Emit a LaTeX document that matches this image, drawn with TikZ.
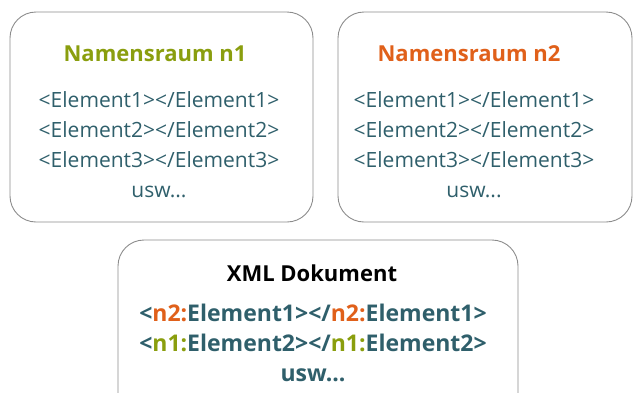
\documentclass[tikz,border=0pt]{standalone}
\usepackage{fontspec}
\setmainfont{Open Sans}
\definecolor{nsgreen}{HTML}{8A9E0E}
\definecolor{nsorange}{HTML}{E0601A}
\definecolor{teal}{HTML}{2F5F6B}
\definecolor{frame}{HTML}{8C8C8C}
\begin{document}
\begin{tikzpicture}[x=1pt,y=-1pt,
  nsbox/.style={draw=frame,line width=0.9pt,rounded corners=26pt},
  head/.style={font=\fontsize{22}{24}\selectfont\bfseries},
  elem/.style={font=\fontsize{21}{30}\selectfont,text=teal,align=center},
  docl/.style={font=\fontsize{23}{30}\selectfont\bfseries,text=teal,align=center}]
\useasboundingbox (0,0) rectangle (635,392);
\clip (0,0) rectangle (635,392);
\draw[nsbox] (10,12) rectangle (313,222);
\draw[nsbox] (338,12) rectangle (632,222);
\draw[nsbox] (118,240) rectangle (518,420);
\node[head,text=nsgreen] (h1) at (155,54) {Namensraum n1};
\node[head,text=nsorange] (h2) at (469,54) {Namensraum n2};
\node[head,text=black] (h3) at (312,273) {XML Dokument};
\node[elem,anchor=north] (e1) at (159,88) {<Element1></Element1>\\<Element2></Element2>\\<Element3></Element3>\\usw...};
\node[elem,anchor=north] (e2) at (474,88) {<Element1></Element1>\\<Element2></Element2>\\<Element3></Element3>\\usw...};
\node[docl,anchor=north] (d) at (313,300) {<\textcolor{nsorange}{n2:}Element1></\textcolor{nsorange}{n2:}Element1>\\<\textcolor{nsgreen}{n1:}Element2></\textcolor{nsgreen}{n1:}Element2>\\usw...};
\end{tikzpicture}
\end{document}
